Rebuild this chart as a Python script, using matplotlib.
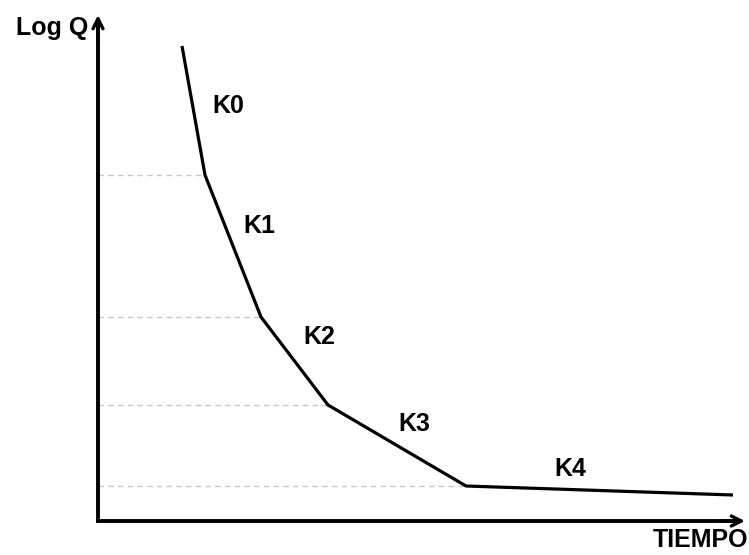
import matplotlib.pyplot as plt

# breakpoints of the recession curve (arbitrary units, origin at the axes corner)
tiempo = [84, 107, 163, 230, 368, 635]
log_q = [475, 346, 204, 116, 35, 26]
seg_labels = ["K0", "K1", "K2", "K3", "K4"]
label_x = [130, 161, 221, 316, 472]
label_y = [415, 295, 184, 97, 52]

fig = plt.figure(figsize=(7.49, 5.55), dpi=100)
ax = fig.add_axes([0, 0, 1, 1])
ax.set_xlim(-98, 651)
ax.set_ylim(-34, 521)
ax.axis("off")

font = dict(family=["Liberation Sans", "DejaVu Sans"], fontweight="bold", fontsize=18)

# dashed guides from the y axis to each breakpoint
for t, q in zip(tiempo[1:-1], log_q[1:-1]):
    ax.plot([0, t], [q, q], color="#c8c8c8", lw=1, ls=(0, (4, 3)), zorder=1)

ax.plot(tiempo, log_q, color="black", lw=2.3, zorder=3, solid_capstyle="butt")

# axes with arrows
ax.plot([0, 0], [0, 500], color="black", lw=2.8, solid_capstyle="projecting")
ax.plot([0, 640], [0, 0], color="black", lw=2.8, solid_capstyle="projecting")
ax.annotate("", xy=(0, 506), xytext=(0, 480),
            arrowprops=dict(arrowstyle="->", lw=2.4, color="black",
                            shrinkA=0, shrinkB=0, mutation_scale=18))
ax.annotate("", xy=(647, 0), xytext=(620, 0),
            arrowprops=dict(arrowstyle="->", lw=2.4, color="black",
                            shrinkA=0, shrinkB=0, mutation_scale=18))

for lab, x, y in zip(seg_labels, label_x, label_y):
    ax.text(x, y, lab, ha="center", va="center", **font)

ax.text(-10, 493, "Log Q", ha="right", va="center", **font)
ax.text(650, -19, "TIEMPO", ha="right", va="center", **font)

fig.savefig("out.png", dpi=100)
